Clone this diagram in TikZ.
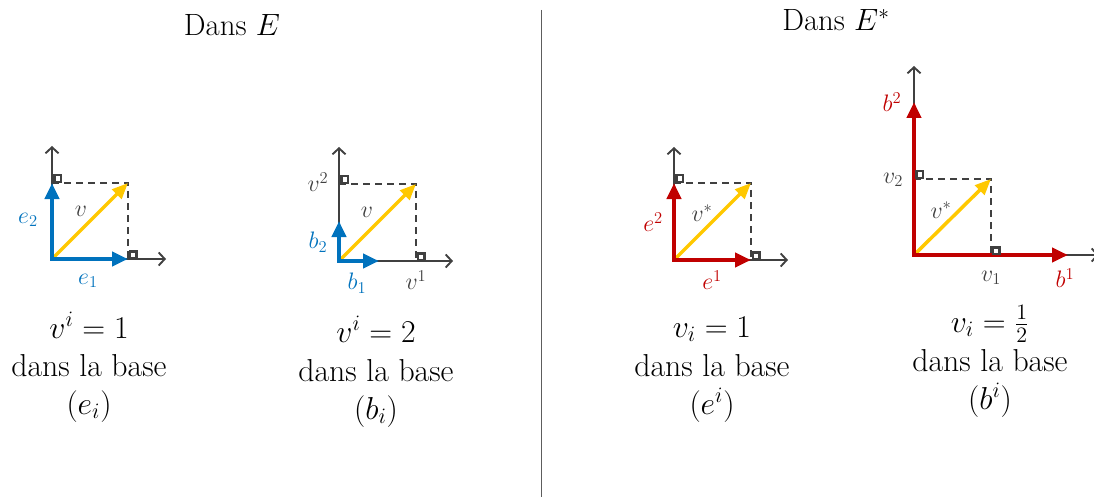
\documentclass[tikz,border=0pt]{standalone}
\usetikzlibrary{arrows.meta}
\definecolor{cblue}{RGB}{0,114,189}
\definecolor{cred}{RGB}{192,0,0}
\definecolor{cyel}{RGB}{255,200,0}
\definecolor{cgray}{RGB}{64,64,64}
\begin{document}
\begin{tikzpicture}[x=1pt,y=-1pt,
  axis/.style={cgray,line width=1.9pt,-{Straight Barb[length=6pt,width=13pt,line width=1.9pt]}},
  bvec/.style={cblue,line width=4.5pt,line cap=rect,-{Triangle[length=16pt,width=14pt]}},
  rvec/.style={cred,line width=4.5pt,line cap=rect,-{Triangle[length=16pt,width=14pt]}},
  yvec/.style={cyel,line width=3.5pt,-{Triangle[length=16pt,width=13pt]}},
  proj/.style={cgray,line width=2.6pt,dash pattern=on 7pt off 5pt},
  rmark/.style={cgray,line width=2.4pt,fill=white},
  lab/.style={font=\huge,scale=1.15},
  glab/.style={lab,text=cgray},
  big/.style={font=\huge,scale=1.53,anchor=base,inner sep=0pt},
]
\useasboundingbox (0,0) rectangle (1094,497);

% titles and separator
\node[big,scale=0.97] (tE) at (232,36) {Dans $E$};
\node[big,scale=0.97] (tEs) at (836,31) {Dans $E^*$};
\coordinate (s1) at (541,10);
\coordinate (s2) at (541,497);
\draw[cgray!85,line width=1pt] (s1) -- (s2);

% ---------- panel 1 ----------
\coordinate (o1) at (52,259);
\coordinate (x1) at (166,259);
\coordinate (y1) at (52,146);
\coordinate (p1) at (128,183);
\coordinate (a1) at (128,259);
\coordinate (c1) at (52,183);
\draw[axis] (o1) -- (x1);
\draw[axis] (o1) -- (y1);
\draw[proj] (c1) -- (p1) -- (a1);
\draw[yvec] (o1) -- (p1);
\draw[bvec] (o1) -- (a1);
\draw[bvec] (o1) -- (c1);
\draw[rmark] (c1) ++(2.5,-1.2) rectangle ++(6.5,-6.5);
\draw[rmark] (a1) ++(2,-1.2) rectangle ++(6.5,-6.5);
\node[lab,text=cblue] (l1e2) at (28,220) {$e_2$};
\node[lab,text=cblue] (l1e1) at (88,281) {$e_1$};
\node[glab] (l1v) at (81,211) {$v$};

% ---------- panel 2 ----------
\coordinate (o2) at (339,261);
\coordinate (x2) at (453,261);
\coordinate (y2) at (339,147);
\coordinate (p2) at (416,184);
\coordinate (a2) at (416,261);
\coordinate (c2) at (339,184);
\coordinate (b2x) at (379,261);
\coordinate (b2y) at (339,221);
\draw[axis] (o2) -- (x2);
\draw[axis] (o2) -- (y2);
\draw[proj] (c2) -- (p2) -- (a2);
\draw[yvec] (o2) -- (p2);
\draw[bvec] (o2) -- (b2x);
\draw[bvec] (o2) -- (b2y);
\draw[rmark] (c2) ++(2.5,-1.2) rectangle ++(6.5,-6.5);
\draw[rmark] (a2) ++(2,-1.2) rectangle ++(6.5,-6.5);
\node[glab] (l2v2) at (318,182) {$v^2$};
\node[lab,text=cblue] (l2b2) at (318,242) {$b_2$};
\node[lab,text=cblue] (l2b1) at (357,283) {$b_1$};
\node[glab] (l2v1) at (416,280) {$v^1$};
\node[glab] (l2v) at (367,212) {$v$};

% ---------- panel 3 ----------
\coordinate (o3) at (674,260);
\coordinate (x3) at (788,260);
\coordinate (y3) at (674,147);
\coordinate (p3) at (751,183);
\coordinate (a3) at (751,260);
\coordinate (c3) at (674,183);
\draw[axis] (o3) -- (x3);
\draw[axis] (o3) -- (y3);
\draw[proj] (c3) -- (p3) -- (a3);
\draw[yvec] (o3) -- (p3);
\draw[rvec] (o3) -- (a3);
\draw[rvec] (o3) -- (c3);
\draw[rmark] (c3) ++(2.5,-1.2) rectangle ++(6.5,-6.5);
\draw[rmark] (a3) ++(2,-1.2) rectangle ++(6.5,-6.5);
\node[lab,text=cred] (l3e2) at (653,222) {$e^2$};
\node[lab,text=cred] (l3e1) at (712,280) {$e^1$};
\node[glab] (l3v) at (702,213) {$v^*$};

% ---------- panel 4 ----------
\coordinate (o4) at (914,255);
\coordinate (x4) at (1099,255);
\coordinate (y4) at (914,66);
\coordinate (p4) at (991,179);
\coordinate (a4) at (991,255);
\coordinate (c4) at (914,179);
\coordinate (b4x) at (1068,255);
\coordinate (b4y) at (914,102);
\draw[axis] (o4) -- (x4);
\draw[axis] (o4) -- (y4);
\draw[proj] (c4) -- (p4) -- (a4);
\draw[yvec] (o4) -- (p4);
\draw[rvec] (o4) -- (b4x);
\draw[rvec] (o4) -- (b4y);
\draw[rmark] (c4) ++(2.5,-1.2) rectangle ++(6.5,-6.5);
\draw[rmark] (a4) ++(2,-1.2) rectangle ++(6.5,-6.5);
\node[lab,text=cred] (l4b2) at (892,102) {$b^2$};
\node[glab] (l4v2) at (893,180) {$v_2$};
\node[glab] (l4v) at (941,210) {$v^*$};
\node[glab] (l4v1) at (991,278) {$v_1$};
\node[lab,text=cred] (l4b1) at (1065,278) {$b^1$};

% ---------- bottom texts ----------
\node[big] (t1a) at (89,338) {$v^i = 1$};
\node[big] (t1b) at (89,376) {dans la base};
\node[big] (t1c) at (89,414) {$(e_i)$};
\node[big] (t2a) at (376,342) {$v^i = 2$};
\node[big] (t2b) at (376,381) {dans la base};
\node[big] (t2c) at (376,419) {$(b_i)$};
\node[big] (t3a) at (712,337) {$v_i = 1$};
\node[big] (t3b) at (712,376) {dans la base};
\node[big] (t3c) at (712,414) {$(e^i)$};
\node[big] (t4a) at (990,332) {$v_i = {\textstyle\frac{1}{2}}$};
\node[big] (t4b) at (990,371) {dans la base};
\node[big] (t4c) at (990,409) {$(b^i)$};
\end{tikzpicture}
\end{document}
